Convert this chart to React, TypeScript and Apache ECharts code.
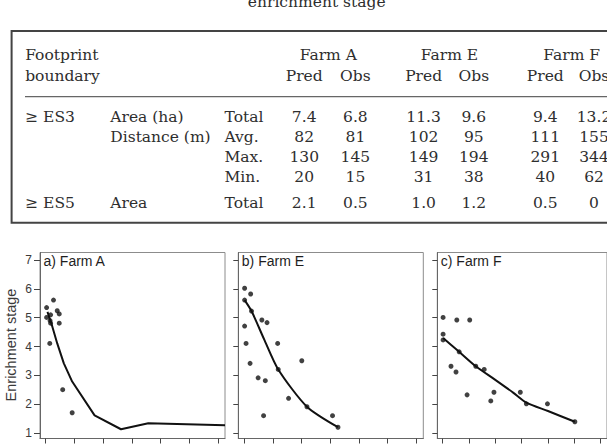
import { useEffect, useRef } from "react";
import * as echarts from "echarts";

// ---- Table: footprint boundaries, predicted vs observed ----
const tableCaption = "enrichment stage";
const farmNames = ["Farm A", "Farm E", "Farm F"];
const columnHeads = ["Pred", "Obs", "Pred", "Obs", "Pred", "Obs"];
const boundaryHead = ["Footprint", "boundary"];
const rowBoundary = ["≥ ES3", "", "", "", "≥ ES5"];
const rowMeasure = ["Area (ha)", "Distance (m)", "", "", "Area"];
const rowStat = ["Total", "Avg.", "Max.", "Min.", "Total"];
const rowES3Area = ["7.4", "6.8", "11.3", "9.6", "9.4", "13.2"];
const rowES3Avg = ["82", "81", "102", "95", "111", "155"];
const rowES3Max = ["130", "145", "149", "194", "291", "344"];
const rowES3Min = ["20", "15", "31", "38", "40", "62"];
const rowES5Area = ["2.1", "0.5", "1.0", "1.2", "0.5", "0"];
const tableRows = [rowES3Area, rowES3Avg, rowES3Max, rowES3Min, rowES5Area];

// ---- Panels: enrichment stage vs distance from farm (m) ----
const panelTitles = ["a) Farm A", "b) Farm E", "c) Farm F"];
const yAxisTitle = "Enrichment stage";
const stageTicks = [1, 2, 3, 4, 5, 6, 7];
const distanceTicks = [0, 50, 100, 150, 200, 250, 300];

const observedA: [number, number][] = [
  [1.5, 5.35], [13.5, 5.61], [1.5, 5.01], [8.5, 5.1], [7.5, 4.9], [8.5, 4.81],
  [20, 5.24], [23.5, 5.13], [23.5, 4.81], [7, 4.11], [29.5, 2.51], [46, 1.71],
];
const predictedA: [number, number][] = [
  [3, 5.2], [11.5, 4.69], [20, 4.11], [31.5, 3.42], [46, 2.79], [85, 1.62],
  [131, 1.14], [178.5, 1.35], [312, 1.28],
];

const observedE: [number, number][] = [
  [1, 6.02], [11.5, 5.82], [1, 5.61], [13, 5.23], [1, 4.71], [31, 4.92],
  [40, 4.83], [3.5, 4.11], [58.5, 4.11], [10.5, 3.42], [100.5, 3.51],
  [24.5, 2.92], [37, 2.82], [59.5, 3.21], [77.5, 2.21], [34, 1.61],
  [109.5, 1.92], [154, 1.61], [163.5, 1.21],
];
const predictedE: [number, number][] = [
  [1, 5.61], [13, 5.23], [35, 4.25], [59.5, 3.21], [109.5, 1.92], [163.5, 1.21],
];

const observedF: [number, number][] = [
  [1, 5.01], [27, 4.92], [51.5, 4.92], [1, 4.43], [1, 4.23], [31.5, 3.82],
  [16, 3.32], [25.5, 3.12], [63, 3.32], [79, 3.21], [46.5, 2.33], [91.5, 2.12],
  [97.5, 2.42], [147.5, 2.42], [159, 2.02], [199, 2.02], [251, 1.4],
];
const predictedF: [number, number][] = [
  [1, 4.3], [31.5, 3.82], [63, 3.32], [100, 2.85], [134.5, 2.4], [160, 2.05],
  [200, 1.77], [251, 1.4],
];

const observedSets = [observedA, observedE, observedF];
const predictedSets = [predictedA, predictedE, predictedF];

const SERIF = "'DejaVu Serif', serif";
const SANS = "'Liberation Sans', Arial, sans-serif";
const INK = "#2e2e2e";

const panelLefts = [40, 238.3, 437.3];
const panelTop = 252.5;
const panelW = 185;
const panelH = 186;

const colCenters = [304.2, 355.4, 423.6, 473.8, 545.3, 594];
const farmCenters = [328.3, 449.5, 571.7];
const rowYs = [116.7, 136.7, 156.7, 176.7, 202.7];

function serifText(text: string, x: number, y: number, align: string) {
  return {
    type: "text",
    x,
    y,
    style: {
      text,
      fill: INK,
      font: `15.5px ${SERIF}`,
      align,
      verticalAlign: "middle",
    },
  };
}

function buildTable() {
  const els: any[] = [];
  els.push(serifText(tableCaption, 316.7, 2.2, "center"));
  els.push({
    type: "rect",
    shape: { x: 11.6, y: 31, width: 700, height: 191.7 },
    style: { fill: "none", stroke: "#444", lineWidth: 2 },
  });
  els.push({
    type: "line",
    shape: { x1: 25, y1: 96.7, x2: 700, y2: 96.7 },
    style: { stroke: "#666", lineWidth: 1.3 },
  });
  els.push(serifText(boundaryHead[0], 25.2, 55, "left"));
  els.push(serifText(boundaryHead[1], 25.2, 76, "left"));
  farmNames.forEach((f, i) => els.push(serifText(f, farmCenters[i], 55, "center")));
  columnHeads.forEach((h, i) => els.push(serifText(h, colCenters[i], 76, "center")));
  rowYs.forEach((y, r) => {
    if (rowBoundary[r]) els.push(serifText(rowBoundary[r], 25.2, y, "left"));
    if (rowMeasure[r]) els.push(serifText(rowMeasure[r], 110.3, y, "left"));
    els.push(serifText(rowStat[r], 224.5, y, "left"));
    tableRows[r].forEach((v, c) => els.push(serifText(v, colCenters[c], y, "center")));
  });
  return els;
}

function buildPanelText() {
  const els: any[] = [];
  panelTitles.forEach((t, i) => {
    els.push({
      type: "text",
      x: panelLefts[i] + 3.5,
      y: 261,
      style: { text: t, fill: "#1e1e1e", font: `14px ${SANS}`, align: "left", verticalAlign: "middle" },
    });
  });
  els.push({
    type: "text",
    x: 10.5,
    y: 345,
    rotation: Math.PI / 2,
    style: { text: yAxisTitle, fill: "#3a3a3a", font: `14.5px ${SANS}`, align: "center", verticalAlign: "middle" },
  });
  return els;
}

export default function App() {
  const ref = useRef<HTMLDivElement>(null);

  useEffect(() => {
    if (!ref.current) return;
    const chart = echarts.init(ref.current, undefined, { renderer: "svg" });

    const grids = panelLefts.map((left) => ({
      left,
      top: panelTop,
      width: panelW,
      height: panelH,
      show: true,
      borderColor: "#8c8c8c",
      borderWidth: 1,
      backgroundColor: "transparent",
    }));

    const xAxes = panelLefts.map((_, i) => ({
      type: "value",
      gridIndex: i,
      min: -10,
      max: 312,
      splitLine: { show: false },
      axisLine: { show: true, onZero: false, lineStyle: { color: "#666", width: 1 } },
      axisTick: { show: true, length: 5, customValues: distanceTicks, lineStyle: { color: "#444" } },
      axisLabel: { show: false, customValues: distanceTicks },
    }));

    const yAxes = panelLefts.map((_, i) => ({
      type: "value",
      gridIndex: i,
      min: 0.82,
      max: 7.256,
      splitLine: { show: false },
      axisLine: { show: true, onZero: false, lineStyle: { color: "#666", width: 1 } },
      axisTick: { show: true, length: i === 0 ? 6 : 5, customValues: stageTicks, lineStyle: { color: "#444" } },
      axisLabel: {
        show: i === 0,
        customValues: stageTicks,
        margin: 8,
        color: "#3a3a3a",
        fontSize: 12,
        fontFamily: SANS,
      },
    }));

    const series: any[] = [];
    panelLefts.forEach((_, i) => {
      series.push({
        type: "line",
        xAxisIndex: i,
        yAxisIndex: i,
        data: predictedSets[i],
        showSymbol: false,
        smooth: i === 0 ? false : 0.25,
        lineStyle: { color: "#111", width: 2 },
        z: 2,
      });
      series.push({
        type: "scatter",
        xAxisIndex: i,
        yAxisIndex: i,
        data: observedSets[i],
        symbol: "circle",
        symbolSize: 5,
        itemStyle: { color: "#111" },
        z: 3,
      });
    });

    chart.setOption({
      animation: false,
      backgroundColor: "#fff",
      grid: grids,
      xAxis: xAxes,
      yAxis: yAxes,
      series,
      graphic: [...buildTable(), ...buildPanelText()],
    });

    return () => chart.dispose();
  }, []);

  return (
    <div
      ref={ref}
      style={{ position: "fixed", left: 0, top: 0, width: 607, height: 445, background: "#fff" }}
    />
  );
}
